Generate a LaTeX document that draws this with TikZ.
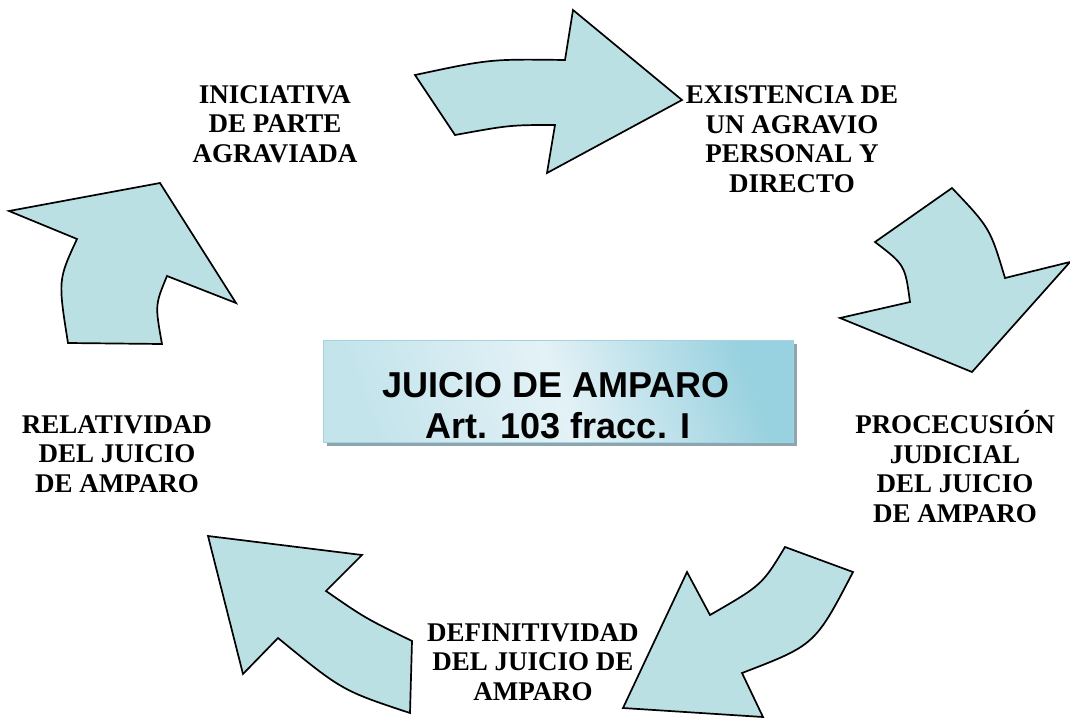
\documentclass[tikz,border=0pt]{standalone}
\usepackage{fontspec}
\setmainfont{Liberation Serif}
\newfontfamily\boxfont{Liberation Sans}
\usetikzlibrary{shadows}
\definecolor{arrowfill}{RGB}{187,224,228}
\definecolor{shadowc}{RGB}{140,165,174}
\definecolor{boxdark}{RGB}{152,209,223}
\definecolor{boxmid}{RGB}{196,228,236}
\definecolor{boxlight}{RGB}{228,242,246}
\definecolor{boxedge}{RGB}{165,210,222}
\begin{document}
\begin{tikzpicture}[x=1pt,y=-1pt,
  arrowshape/.style={fill=arrowfill, draw=black, line width=1.7pt, line join=miter},
  lbl/.style={font=\fontsize{27}{29.5}\selectfont\bfseries, align=center, inner sep=0pt, anchor=base},
  boxtext/.style={font=\boxfont\fontsize{36}{41}\selectfont\bfseries, inner sep=0pt, anchor=base}]
\useasboundingbox (0,0) rectangle (1070,717);

% arrows of the cycle
\draw[arrowshape] (415,75) .. controls (490,59) .. (565,60) -- (573,10) -- (682,100)
  -- (547,173) -- (555,125) .. controls (510,125) .. (455,135) -- cycle;
\draw[arrowshape] (952,188) .. controls (990,228) .. (1005,278) -- (1070,262) -- (972,372)
  -- (840,318) -- (910,302) .. controls (905,265) .. (875,242) -- cycle;
\draw[arrowshape] (785,547) -- (853,572) .. controls (815,645) .. (742,673) -- (763,717)
  -- (623,708) -- (687,572) -- (710,615) .. controls (762,585) .. (785,547) -- cycle;
\draw[arrowshape] (208,536) -- (362,555) -- (326,591) .. controls (365,618) .. (412,641)
  -- (410,713) .. controls (342,690.5) .. (278,638) -- (243,674) -- cycle;
\draw[arrowshape] (160,183) -- (236,303) -- (167,276) .. controls (155,305) .. (162,344)
  -- (68,343) .. controls (58,280) .. (77,239) -- (9,211) -- cycle;

% central box
\node[minimum width=470pt, minimum height=102pt, inner sep=0pt, draw=boxedge, line width=0.8pt,
  left color=boxmid, right color=boxdark, middle color=boxlight, shading angle=110,
  drop shadow={shadow xshift=4pt, shadow yshift=-4pt, fill=shadowc, opacity=1}]
  (center) at (558,391) {};
\node[boxtext] (title) at (556,397) {JUICIO DE AMPARO};
\node[boxtext] (art) at (558,438) {Art. 103 fracc. I};

% labels (anchored at the baseline of their last line)
\node[lbl] (ini) at (275,162) {INICIATIVA\\DE PARTE\\AGRAVIADA};
\node[lbl] (exi) at (792,192) {EXISTENCIA DE\\UN AGRAVIO\\PERSONAL Y\\DIRECTO};
\node[lbl] (pro) at (955,522) {PROCECUSIÓN\\JUDICIAL\\DEL JUICIO\\DE AMPARO};
\node[lbl] (def) at (533,700) {DEFINITIVIDAD\\DEL JUICIO DE\\AMPARO};
\node[lbl] (rel) at (117,492) {RELATIVIDAD\\DEL JUICIO\\DE AMPARO};
\end{tikzpicture}
\end{document}
